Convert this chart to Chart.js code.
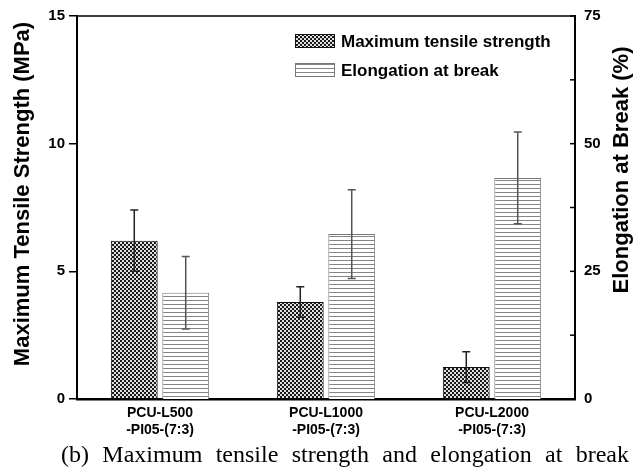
<!DOCTYPE html>
<html>
<head>
<meta charset="utf-8">
<script src="https://cdn.jsdelivr.net/npm/chart.js@4/dist/chart.umd.min.js"></script>
<style>
  html, body { margin: 0; padding: 0; background: #fff; }
  #wrap { position: relative; width: 640px; height: 471px; overflow: hidden; }
  #c { position: absolute; left: 0; top: 0; }
  #cap { position: absolute; left: 61px; top: 441px; width: 568px; font-family: 'Liberation Serif', 'Times New Roman', serif; font-size: 24px; line-height: 27px; color: #000; text-align: justify; text-align-last: justify; white-space: nowrap; }
</style>
</head>
<body>
<div id="wrap">
  <canvas id="c" width="640" height="471"></canvas>
  <div id="cap">(b) Maximum tensile strength and elongation at break</div>
</div>
<script>
// ---- data ----
const categories = [['PCU-L500', '-PI05-(7:3)'], ['PCU-L1000', '-PI05-(7:3)'], ['PCU-L2000', '-PI05-(7:3)']];
const tensileStrength = [6.2, 3.8, 1.25];      // MPa
const tensileError = [1.2, 0.6, 0.6];
const elongation = [20.8, 32.3, 43.3];         // %
const elongationError = [7.1, 8.7, 9.0];
const leftTicks = [0, 5, 10, 15];
const rightTicks = [0, 25, 50, 75];
const rightMinorTicks = [12.5, 37.5, 62.5];
const seriesLabels = ['Maximum tensile strength', 'Elongation at break'];
const axisTitles = ['Maximum Tensile Strength (MPa)', 'Elongation at Break (%)'];

const NARROW = "'Liberation Sans Narrow', 'Arial Narrow', 'Liberation Sans', Arial, sans-serif";
const SANS = "'Liberation Sans', Arial, sans-serif";

function makeChecker() {
  const p = document.createElement('canvas');
  p.width = 4; p.height = 4;
  const g = p.getContext('2d');
  g.fillStyle = '#e0e0e0'; g.fillRect(0, 0, 4, 4);
  g.fillStyle = '#1a1a1a';
  g.fillRect(0, 0, 2, 2); g.fillRect(2, 2, 2, 2);
  return g.createPattern(p, 'repeat');
}
function makeLines() {
  const p = document.createElement('canvas');
  p.width = 4; p.height = 4;
  const g = p.getContext('2d');
  g.fillStyle = '#ffffff'; g.fillRect(0, 0, 4, 4);
  g.fillStyle = '#858585'; g.fillRect(0, 0, 4, 1);
  return g.createPattern(p, 'repeat');
}
const checker = makeChecker();
const lines = makeLines();

const errorBars = {
  id: 'errorBars',
  afterDatasetsDraw(chart) {
    const ctx = chart.ctx;
    const sets = [
      { idx: 0, vals: tensileStrength, errs: tensileError, scale: chart.scales.y, color: '#222' },
      { idx: 1, vals: elongation, errs: elongationError, scale: chart.scales.y2, color: '#555' }
    ];
    ctx.save();
    sets.forEach(s => {
      const meta = chart.getDatasetMeta(s.idx);
      meta.data.forEach((bar, i) => {
        const x = bar.x;
        const yt = s.scale.getPixelForValue(s.vals[i] + s.errs[i]);
        const yb = s.scale.getPixelForValue(s.vals[i] - s.errs[i]);
        ctx.strokeStyle = s.color;
        ctx.lineWidth = 1.5;
        ctx.beginPath();
        ctx.moveTo(x, yt); ctx.lineTo(x, yb);
        ctx.moveTo(x - 4, yt); ctx.lineTo(x + 4, yt);
        ctx.moveTo(x - 4, yb); ctx.lineTo(x + 4, yb);
        ctx.stroke();
      });
    });
    ctx.restore();
  }
};

const frame = {
  id: 'frame',
  afterDraw(chart) {
    const ctx = chart.ctx;
    const a = chart.chartArea;
    ctx.save();
    // top border
    ctx.strokeStyle = '#000';
    ctx.lineWidth = 1.5;
    ctx.beginPath();
    ctx.moveTo(a.left - 1, a.top); ctx.lineTo(a.right + 1, a.top);
    ctx.stroke();
    // inward ticks on right axis
    const s = chart.scales.y2;
    ctx.lineWidth = 1.5;
    s.ticks.forEach(t => {
      const y = s.getPixelForValue(t.value);
      ctx.beginPath();
      ctx.moveTo(a.right - 5, y); ctx.lineTo(a.right, y);
      ctx.stroke();
    });
    // legend
    const fills = [checker, lines];
    const borders = ['#111', '#777'];
    ctx.font = 'bold 17px ' + SANS;
    ctx.textBaseline = 'middle';
    seriesLabels.forEach((lab, i) => {
      const cy = a.top + 25 + i * 29;
      ctx.fillStyle = fills[i];
      ctx.fillRect(a.left + 218, cy - 7, 40, 14);
      ctx.strokeStyle = borders[i];
      ctx.lineWidth = 1;
      ctx.strokeRect(a.left + 218.5, cy - 6.5, 39, 13);
      ctx.fillStyle = '#000';
      ctx.fillText(lab, a.left + 264, cy + 1);
    });
    // axis titles (both read bottom-to-top)
    ctx.font = 'bold 22px ' + SANS;
    ctx.textAlign = 'center';
    ctx.textBaseline = 'middle';
    ctx.save();
    ctx.translate(23, 194);
    ctx.rotate(-Math.PI / 2);
    ctx.fillText(axisTitles[0], 0, 0);
    ctx.restore();
    ctx.save();
    ctx.translate(622, 170);
    ctx.rotate(-Math.PI / 2);
    ctx.fillText(axisTitles[1], 0, 0);
    ctx.restore();
    ctx.restore();
  }
};

new Chart(document.getElementById('c'), {
  type: 'bar',
  data: {
    labels: categories,
    datasets: [
      { label: seriesLabels[0], data: tensileStrength, yAxisID: 'y', backgroundColor: checker, borderColor: '#111', borderWidth: 1, categoryPercentage: 0.62, barPercentage: 0.91 },
      { label: seriesLabels[1], data: elongation, yAxisID: 'y2', backgroundColor: lines, borderColor: '#777', borderWidth: 1, categoryPercentage: 0.62, barPercentage: 0.91 }
    ]
  },
  options: {
    responsive: false,
    animation: false,
    events: [],
    layout: { padding: { top: 16, left: 0, right: 0, bottom: 0 } },
    plugins: { legend: { display: false }, tooltip: { enabled: false } },
    scales: {
      x: {
        grid: { display: false },
        border: { display: true, color: '#000', width: 2.5 },
        ticks: { color: '#000', font: { family: NARROW, size: 14, weight: 'bold', lineHeight: 1.2 }, padding: -2, maxRotation: 0, autoSkip: false },
        afterFit(s) { s.height = 72; }
      },
      y: {
        position: 'left',
        min: 0, max: 15,
        afterBuildTicks(s) { s.ticks = leftTicks.map(v => ({ value: v })); },
        grid: { display: true, drawOnChartArea: false, drawTicks: true, tickLength: 8, color: '#000', lineWidth: 1.5 },
        border: { display: true, color: '#000', width: 2 },
        ticks: { color: '#000', font: { family: NARROW, size: 15, weight: 'bold' }, padding: 4 },
        afterFit(s) { s.width = 77; }
      },
      y2: {
        position: 'right',
        min: 0, max: 75,
        afterBuildTicks(s) { s.ticks = rightTicks.concat(rightMinorTicks).sort((p, q) => p - q).map(v => ({ value: v })); },
        grid: { display: false },
        border: { display: true, color: '#000', width: 2 },
        ticks: {
          color: '#000', font: { family: NARROW, size: 15, weight: 'bold' }, padding: 1,
          callback: (v) => rightTicks.includes(v) ? String(v) : ''
        },
        afterFit(s) { s.width = 65; }
      }
    }
  },
  plugins: [errorBars, frame]
});
</script>
</body>
</html>
